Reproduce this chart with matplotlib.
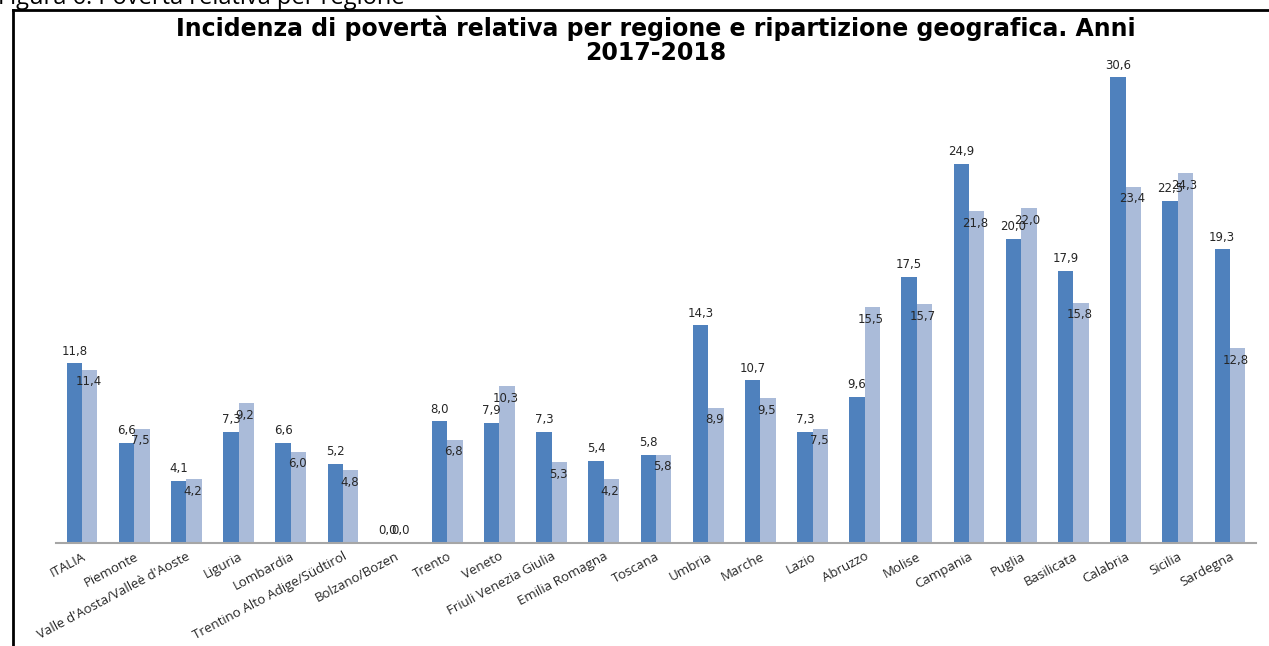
import matplotlib.pyplot as plt
from matplotlib.lines import Line2D
import numpy as np

regioni = ["ITALIA", "Piemonte", "Valle d'Aosta/Valleè d'Aoste", "Liguria",
           "Lombardia", "Trentino Alto Adige/Südtirol", "Bolzano/Bozen",
           "Trento", "Veneto", "Friuli Venezia Giulia", "Emilia Romagna",
           "Toscana", "Umbria", "Marche", "Lazio", "Abruzzo", "Molise",
           "Campania", "Puglia", "Basilicata", "Calabria", "Sicilia",
           "Sardegna"]
anno_2017 = [11.8, 6.6, 4.1, 7.3, 6.6, 5.2, 0.0, 8.0, 7.9, 7.3, 5.4, 5.8,
             14.3, 10.7, 7.3, 9.6, 17.5, 24.9, 20.0, 17.9, 30.6, 22.5, 19.3]
anno_2018 = [11.4, 7.5, 4.2, 9.2, 6.0, 4.8, 0.0, 6.8, 10.3, 5.3, 4.2, 5.8,
             8.9, 9.5, 7.5, 15.5, 15.7, 21.8, 22.0, 15.8, 23.4, 24.3, 12.8]

BLU = '#4F81BD'
AZZURRO = '#AABBD9'
W, H = 1269, 646


def fmt(v):
    return f"{v:.1f}".replace('.', ',')


fig = plt.figure(figsize=(W / 100, H / 100), dpi=100)
ax = fig.add_axes([56 / W, 103 / H, 1200 / W, 487 / H])

x = np.arange(len(regioni))
bw = 0.295
ax.bar(x - bw / 2, anno_2017, bw, color=BLU, edgecolor='none')
ax.bar(x + bw / 2, anno_2018, bw, color=AZZURRO, edgecolor='none')

ax.set_xlim(-0.5, len(regioni) - 0.5)
ax.set_ylim(0, 32)

for xi, v in zip(x, anno_2017):
    ax.annotate(fmt(v), (xi - bw / 2, v), xytext=(0, 4), textcoords='offset points',
                ha='center', va='bottom', fontsize=8.5, color='#262626')
for xi, v in zip(x, anno_2018):
    # labels inside the top of the bar, above it when the bar is empty
    if v > 0:
        ax.annotate(fmt(v), (xi + bw / 2, v), xytext=(-1, -4), textcoords='offset points',
                    ha='center', va='top', fontsize=8.5, color='#262626')
    else:
        ax.annotate(fmt(v), (xi + bw / 2, v), xytext=(-2, 4), textcoords='offset points',
                    ha='center', va='bottom', fontsize=8.5, color='#262626')

for s in ['top', 'right', 'left']:
    ax.spines[s].set_visible(False)
ax.spines['bottom'].set_color('#A6A6A6')
ax.spines['bottom'].set_linewidth(1.5)
ax.set_yticks([])
ax.set_xticks(x)
ax.set_xticklabels(regioni, rotation=28, ha='right', va='top',
                   rotation_mode='anchor', fontsize=9.5, family='Open Sans',
                   color='#262626')
ax.tick_params(axis='x', length=0, pad=5)

fig.text(656 / W, 1 - 28 / H,
         "Incidenza di povertà relativa per regione e ripartizione geografica. Anni",
         ha='center', va='center', fontsize=17, fontweight='bold')
fig.text(656 / W, 1 - 53 / H, "2017-2018",
         ha='center', va='center', fontsize=17, fontweight='bold')

fig.text(-2 / W, 1 - 4 / H, "Figura 6: Povertà relativa per regione",
         ha='left', va='baseline', fontsize=17, family='Open Sans')

# box around the chart
fig.add_artist(Line2D([13 / W, 13 / W], [0, 1 - 10 / H], color='black', lw=2))
fig.add_artist(Line2D([13 / W, 1], [1 - 10 / H, 1 - 10 / H], color='black', lw=2))

fig.savefig('out.png', dpi=100)
